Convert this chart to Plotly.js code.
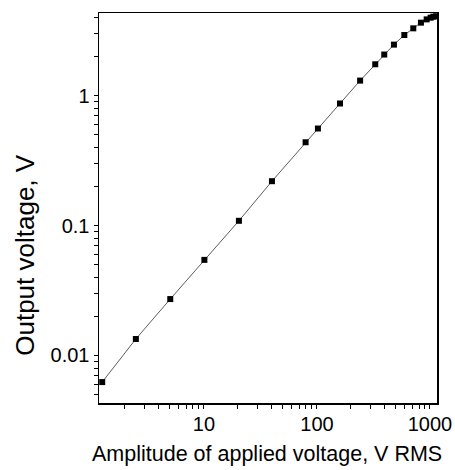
<!DOCTYPE html>
<html>
<head>
<meta charset="utf-8">
<script src="https://cdn.plot.ly/plotly-3.0.1.min.js"></script>
<style>html,body{margin:0;padding:0;background:#fff;}#chart{width:455px;height:470px;}</style>
</head>
<body>
<div id="chart"></div>
<script>
// Data
const appliedVoltage = [1.26, 2.5, 5.04, 10.1, 20.4, 40, 79.4, 102, 160, 241, 328, 394, 480, 593, 712, 832, 935, 1014, 1070, 1130];
const outputVoltage  = [0.00624, 0.0134, 0.0272, 0.0545, 0.109, 0.22, 0.439, 0.56, 0.873, 1.31, 1.75, 2.08, 2.48, 2.94, 3.31, 3.66, 3.88, 4.0, 4.07, 4.1];
// tick values: labelled decades plus unlabelled intermediate ticks
const xTickVals = [2,3,4,5,6,7,8,9,10,20,30,40,50,60,70,80,90,100,200,300,400,500,600,700,800,900,1000];
const xTickText = ["","","","","","","","","10","","","","","","","","","100","","","","","","","","","1000"];
const yTickVals = [0.005,0.006,0.007,0.008,0.009,0.01,0.02,0.03,0.04,0.05,0.06,0.07,0.08,0.09,0.1,0.2,0.3,0.4,0.5,0.6,0.7,0.8,0.9,1,2,3,4];
const yTickText = ["","","","","","0.01","","","","","","","","","0.1","","","","","","","","","1","","",""];
const xTitle = "Amplitude of applied voltage, V RMS";
const yTitle = "Output voltage, V";

const font = "Liberation Sans, Arial, Helvetica, sans-serif";

const trace = {
  x: appliedVoltage,
  y: outputVoltage,
  mode: "lines+markers",
  type: "scatter",
  line: {color: "#333", width: 0.8},
  marker: {symbol: "square", size: 6, color: "#000"},
  showlegend: false,
  hoverinfo: "x+y"
};

const layout = {
  width: 455,
  height: 470,
  margin: {l: 99, r: 18, t: 13, b: 67},
  paper_bgcolor: "#fff",
  plot_bgcolor: "#fff",
  showlegend: false,
  font: {family: font, color: "#000"},
  xaxis: {
    type: "log",
    range: [Math.log10(1.18), Math.log10(1154)],
    tickmode: "array",
    tickvals: xTickVals,
    ticktext: xTickText,
    ticks: "outside",
    ticklen: 4,
    tickwidth: 1,
    tickcolor: "#000",
    ticklabelstandoff: -2,
    showgrid: false,
    zeroline: false,
    showline: true,
    linecolor: "#000",
    linewidth: 1.5,
    mirror: true,
    tickfont: {size: 20, family: font, color: "#000"}
  },
  yaxis: {
    type: "log",
    range: [-2.366, 0.638],
    tickmode: "array",
    tickvals: yTickVals,
    ticktext: yTickText,
    ticks: "outside",
    ticklen: 4,
    tickwidth: 1,
    tickcolor: "#000",
    showgrid: false,
    zeroline: false,
    showline: true,
    linecolor: "#000",
    linewidth: 1.5,
    mirror: true,
    tickfont: {size: 20, family: font, color: "#000"}
  },
  annotations: [
    {text: xTitle, xref: "paper", yref: "paper", x: 0.498, y: -0.13, xanchor: "center", yanchor: "middle",
     showarrow: false, font: {size: 21.5, family: font, color: "#000"}},
    {text: yTitle, xref: "paper", yref: "paper", x: -0.219, y: 0.38, xanchor: "center", yanchor: "middle",
     textangle: -90, showarrow: false, font: {size: 26, family: font, color: "#000"}}
  ]
};

Plotly.newPlot("chart", [trace], layout, {displayModeBar: false, staticPlot: true});
</script>
</body>
</html>
